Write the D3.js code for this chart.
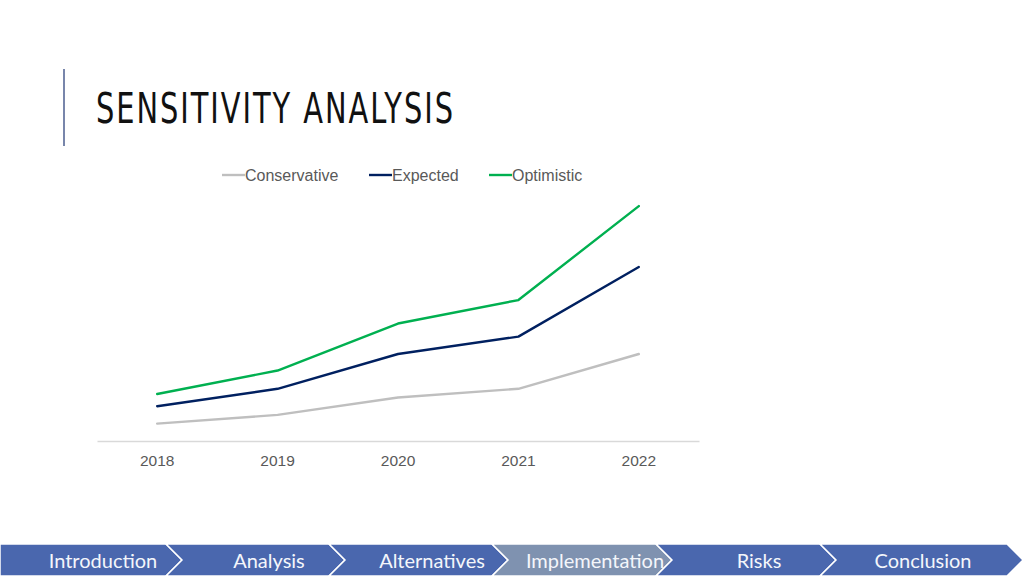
<!DOCTYPE html>
<html><head><meta charset="utf-8">
<script src="https://cdn.jsdelivr.net/npm/d3@7"></script>
<style>
html,body{margin:0;padding:0;background:#fff;overflow:hidden;}
</style></head>
<body>
<svg id="chart" width="1024" height="576"></svg>
<script>
const years = ["2018","2019","2020","2021","2022"];
const conservative = [100,150,250,300,500];
const expected = [200,300,500,600,1000];
const optimistic = [270,405,675,810,1350];
const seriesNames = ["Conservative","Expected","Optimistic"];
const seriesColors = ["#bfbfbf","#002060","#00b050"];
const navLabels = ["Introduction","Analysis","Alternatives","Implementation","Risks","Conclusion"];
const navActive = "Implementation";
const titleText = "SENSITIVITY ANALYSIS";

const svg = d3.select("#chart");

// Title accent line
svg.append("line").attr("x1",64).attr("x2",64).attr("y1",69).attr("y2",146)
  .attr("stroke","#7886ab").attr("stroke-width",2);
const sx = 0.68;
svg.append("text").attr("transform",`translate(96,123) scale(${sx},1)`)
  .attr("font-family","'DejaVu Sans','Liberation Sans',sans-serif")
  .attr("font-size",42.5).attr("fill","#111111")
  .attr("textLength",357/sx).attr("lengthAdjust","spacing")
  .text(titleText);

// Chart
const x = d3.scaleBand().domain(years).range([97,699]);
const y = d3.scaleLinear().domain([0,1400]).range([441,197.4]);
const data = [conservative, expected, optimistic];

const xAxis = svg.append("g").attr("transform","translate(0,441)")
  .call(d3.axisBottom(x).tickSize(0).tickPadding(14));
xAxis.select(".domain").attr("stroke","#d9d9d9").attr("stroke-width",1.5);
xAxis.selectAll("text").attr("font-family","'Liberation Sans',Arial,sans-serif")
  .attr("font-size",15.5).attr("fill","#595959");

const line = d3.line().x((d,i)=>x(years[i])+x.bandwidth()/2).y(d=>y(d));
data.forEach((s,k)=>{
  svg.append("path").datum(s).attr("d",line).attr("fill","none")
    .attr("stroke",seriesColors[k]).attr("stroke-width",2.4)
    .attr("stroke-linejoin","round").attr("stroke-linecap","round");
});

// Legend
const legendX = [222,369,489];
seriesNames.forEach((n,k)=>{
  const g = svg.append("g").attr("transform",`translate(${legendX[k]},175)`);
  g.append("line").attr("x1",0).attr("x2",23).attr("y1",0).attr("y2",0)
    .attr("stroke",seriesColors[k]).attr("stroke-width",2.4);
  g.append("text").attr("x",23).attr("y",5.5)
    .attr("font-family","'Liberation Sans',Arial,sans-serif")
    .attr("font-size",16).attr("fill","#595959").text(n);
});

// Nav bar
const navX = [0,166,329,492,656,820,1007];
const navTop = 544, navBot = 576, navMid = 560, navD = 16;
navLabels.forEach((lab,i)=>{
  const x0 = navX[i], x1 = navX[i+1];
  const pts = [[x0,navTop],[x1,navTop],[x1+navD,navMid],[x1,navBot],[x0,navBot]];
  if(i>0) pts.push([x0+navD,navMid]);
  svg.append("polygon").attr("points",pts.map(p=>p.join(",")).join(" "))
    .attr("fill", lab===navActive ? "#7f92b0" : "#4a67ae")
    .attr("stroke","#ffffff").attr("stroke-width",1.5);
});
navLabels.forEach((lab,i)=>{
  svg.append("text").attr("x",navX[i]+103).attr("y",568)
    .attr("text-anchor","middle")
    .attr("font-family","Lato,'Open Sans',sans-serif")
    .attr("font-size",20).attr("fill","#f4f6fb").text(lab);
});
</script>
</body></html>
